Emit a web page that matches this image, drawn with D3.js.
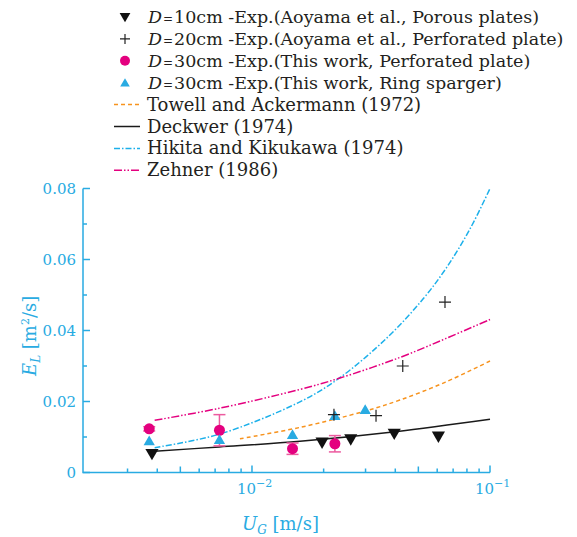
<!DOCTYPE html>
<html>
<head>
<meta charset="utf-8">
<script src="https://cdn.jsdelivr.net/npm/d3@7"></script>
<style>
  body { margin: 0; background: #fff; }
  text { font-family: "DejaVu Serif", serif; }
</style>
</head>
<body>
<div id="chart"></div>
<script>
// ---- data ----
var xDomain = [0.00195, 0.1];
var yDomain = [0, 0.08];
var yTicks = [0, 0.02, 0.04, 0.06, 0.08];
var yMinor = [0.01, 0.03, 0.05, 0.07];
var xMajor = [0.01, 0.1];
var xMajorLabels = ["\u22122", "\u22121"];
var xMid = [0.005, 0.05];
var xMinor = [0.003, 0.004, 0.006, 0.007, 0.008, 0.009, 0.02, 0.03, 0.04, 0.06, 0.07, 0.08, 0.09];

// D=10cm (Aoyama, porous plates)
var d10U = [0.0038, 0.0197, 0.0260, 0.0396, 0.0607];
var d10E = [0.0053, 0.0085, 0.0094, 0.0110, 0.0102];
// D=20cm (Aoyama, perforated plate)
var d20U = [0.0221, 0.0332, 0.0430, 0.0647];
var d20E = [0.0163, 0.0160, 0.0300, 0.0480];
// D=30cm (this work, perforated plate) with error
var d30pU = [0.0037, 0.0073, 0.0148, 0.0223];
var d30pE = [0.0123, 0.0119, 0.0067, 0.0081];
var d30pErr = [0.0006, 0.0044, 0.0016, 0.0023];
// D=30cm (this work, ring sparger)
var d30rU = [0.0037, 0.0073, 0.0148, 0.0223, 0.0299];
var d30rE = [0.0089, 0.0092, 0.0106, 0.0160, 0.0177];

// correlations
var towellU = [0.0089, 0.0159, 0.0299, 0.0418, 0.0647, 0.1];
var towellE = [0.0095, 0.0127, 0.0173, 0.0204, 0.0254, 0.0314];
var deckwerU = [0.0039, 0.0073, 0.0159, 0.0400, 0.1];
var deckwerE = [0.0060, 0.0072, 0.0088, 0.0115, 0.0150];
var hikitaU = [0.0039, 0.0073, 0.0159, 0.0234, 0.0374, 0.0525, 0.0658, 0.0824, 0.1];
var hikitaE = [0.0070, 0.0108, 0.0199, 0.0267, 0.0383, 0.0490, 0.0578, 0.0686, 0.0800];
var zehnerU = [0.0039, 0.0073, 0.0159, 0.0234, 0.0418, 0.0650, 0.1];
var zehnerE = [0.0147, 0.0181, 0.0234, 0.0266, 0.0324, 0.0377, 0.0431];

var legendSizes = ["10", "20", "30", "30"];
var legendNotes = ["(Aoyama et al., Porous plates)", "(Aoyama et al., Perforated plate)",
  "(This work, Perforated plate)", "(This work, Ring sparger)"];
var legendLines = ["Towell and Ackermann (1972)", "Deckwer (1974)",
  "Hikita and Kikukawa (1974)", "Zehner (1986)"];

var blue = "#29abe2", magenta = "#e4007f", orange = "#f7931e", cyanLine = "#1cb0ea";

function zip(a, b) { return a.map(function(d, i) { return [d, b[i]]; }); }

function drawChart() {
  var svg = d3.select("#chart").append("svg").attr("width", 577).attr("height", 537);

  var xScale = d3.scaleLog().domain(xDomain).range([83, 490]);
  var yScale = d3.scaleLinear().domain(yDomain).range([472.5, 188.5]);

  // axes
  var axisG = svg.append("g").attr("stroke", blue).attr("stroke-width", 1.5).attr("fill", "none");
  axisG.append("path").attr("d", "M" + xScale.range()[0] + "," + yScale(0.08) + "V" + yScale(0) + "H" + xScale(0.1));

  axisG.selectAll(".ymaj").data(yTicks).enter().append("line")
    .attr("x1", 83).attr("x2", 90).attr("y1", function(d) { return yScale(d); }).attr("y2", function(d) { return yScale(d); });
  axisG.selectAll(".ymin").data(yMinor).enter().append("line")
    .attr("x1", 83).attr("x2", 87).attr("y1", function(d) { return yScale(d); }).attr("y2", function(d) { return yScale(d); });
  axisG.selectAll(".xmaj").data(xMajor).enter().append("line")
    .attr("x1", function(d) { return xScale(d); }).attr("x2", function(d) { return xScale(d); })
    .attr("y1", yScale(0)).attr("y2", yScale(0) - 7);
  axisG.selectAll(".xmid").data(xMid).enter().append("line")
    .attr("x1", function(d) { return xScale(d); }).attr("x2", function(d) { return xScale(d); })
    .attr("y1", yScale(0)).attr("y2", yScale(0) - 6);
  axisG.selectAll(".xmin").data(xMinor).enter().append("line")
    .attr("x1", function(d) { return xScale(d); }).attr("x2", function(d) { return xScale(d); })
    .attr("y1", yScale(0)).attr("y2", yScale(0) - 4);

  svg.selectAll(".ylab").data(yTicks).enter().append("text")
    .attr("x", 76).attr("y", function(d) { return yScale(d) + 5; })
    .attr("text-anchor", "end").attr("fill", blue).attr("font-size", 15)
    .text(function(d) { return d === 0 ? "0" : d.toFixed(2); });

  var xl = svg.selectAll(".xlab").data(xMajor).enter().append("text")
    .attr("x", function(d) { return xScale(d) - 15; }).attr("y", 494)
    .attr("fill", blue).attr("font-size", 15);
  xl.append("tspan").text("10");
  xl.append("tspan").attr("dy", -7).attr("font-size", 11).text(function(d, i) { return xMajorLabels[i]; });

  // axis titles
  var xt = svg.append("text").attr("x", 242).attr("y", 530).attr("fill", blue).attr("font-size", 18);
  xt.append("tspan").attr("font-style", "italic").text("U");
  xt.append("tspan").attr("font-style", "italic").attr("font-size", 12).attr("dy", 4).text("G");
  xt.append("tspan").attr("dy", -4).text(" [m/s]");

  var yt = svg.append("text").attr("transform", "translate(36,376) rotate(-90)").attr("fill", blue).attr("font-size", 18);
  yt.append("tspan").attr("font-style", "italic").text("E");
  yt.append("tspan").attr("font-style", "italic").attr("font-size", 12).attr("dy", 4).text("L");
  yt.append("tspan").attr("dy", -4).text(" [m");
  yt.append("tspan").attr("dy", -7).attr("font-size", 11).text("2");
  yt.append("tspan").attr("dy", 7).text("/s]");

  // correlation curves
  var line = d3.line().x(function(d) { return xScale(d[0]); }).y(function(d) { return yScale(d[1]); })
    .curve(d3.curveCatmullRom.alpha(0.5));
  var curves = [
    {pts: zip(towellU, towellE), color: orange, dash: "4,3"},
    {pts: zip(deckwerU, deckwerE), color: "#1a1a1a", dash: null},
    {pts: zip(hikitaU, hikitaE), color: cyanLine, dash: "6,2,1.5,2"},
    {pts: zip(zehnerU, zehnerE), color: magenta, dash: "8,2,1.5,2,1.5,2"}
  ];
  svg.selectAll(".curve").data(curves).enter().append("path")
    .attr("d", function(d) { return line(d.pts); })
    .attr("fill", "none").attr("stroke", function(d) { return d.color; })
    .attr("stroke-width", 1.5).attr("stroke-dasharray", function(d) { return d.dash; });

  // error bars
  var errData = d30pU.map(function(u, i) { return {u: u, e: d30pE[i], err: d30pErr[i]}; });
  var eb = svg.selectAll(".err").data(errData).enter().append("g")
    .attr("stroke", "#ec5a9f").attr("stroke-width", 1.5);
  eb.append("line").attr("x1", function(d) { return xScale(d.u); }).attr("x2", function(d) { return xScale(d.u); })
    .attr("y1", function(d) { return yScale(d.e + d.err); }).attr("y2", function(d) { return yScale(d.e - d.err); });
  eb.append("line").attr("x1", function(d) { return xScale(d.u) - 6; }).attr("x2", function(d) { return xScale(d.u) + 6; })
    .attr("y1", function(d) { return yScale(d.e + d.err); }).attr("y2", function(d) { return yScale(d.e + d.err); });
  eb.append("line").attr("x1", function(d) { return xScale(d.u) - 6; }).attr("x2", function(d) { return xScale(d.u) + 6; })
    .attr("y1", function(d) { return yScale(d.e - d.err); }).attr("y2", function(d) { return yScale(d.e - d.err); });

  var triDown = d3.symbol().type(d3.symbolTriangle).size(75);
  var triUp = d3.symbol().type(d3.symbolTriangle).size(55);

  // markers
  svg.selectAll(".d30p").data(zip(d30pU, d30pE)).enter().append("circle")
    .attr("cx", function(d) { return xScale(d[0]); }).attr("cy", function(d) { return yScale(d[1]); })
    .attr("r", 5.5).attr("fill", magenta);
  svg.selectAll(".d30r").data(zip(d30rU, d30rE)).enter().append("path")
    .attr("d", triUp).attr("fill", blue)
    .attr("transform", function(d) { return "translate(" + xScale(d[0]) + "," + (yScale(d[1]) + 1) + ")"; });
  svg.selectAll(".d10").data(zip(d10U, d10E)).enter().append("path")
    .attr("d", triDown).attr("fill", "#111")
    .attr("transform", function(d) { return "translate(" + xScale(d[0]) + "," + (yScale(d[1]) - 1) + ") rotate(180)"; });
  svg.selectAll(".d20").data(zip(d20U, d20E)).enter().append("path")
    .attr("d", "M-6,0H6M0,-6V6")
    .attr("stroke", "#222").attr("stroke-width", 1.2).attr("fill", "none")
    .attr("transform", function(d) { return "translate(" + xScale(d[0]) + "," + yScale(d[1]) + ")"; });

  // legend
  var rowY = function(i) { return 17 + i * 21.9; };
  var lg = svg.append("g");
  lg.append("path").attr("d", d3.symbol().type(d3.symbolTriangle).size(50)()).attr("fill", "#111")
    .attr("transform", "translate(125," + (rowY(0) - 1) + ") rotate(180)");
  lg.append("path").attr("d", "M-5,0H5M0,-5V5").attr("stroke", "#222").attr("stroke-width", 1.2)
    .attr("transform", "translate(125," + rowY(1) + ")");
  lg.append("circle").attr("cx", 125).attr("cy", rowY(2)).attr("r", 5).attr("fill", magenta);
  lg.append("path").attr("d", d3.symbol().type(d3.symbolTriangle).size(40)()).attr("fill", blue)
    .attr("transform", "translate(125," + (rowY(3) + 1) + ")");

  legendSizes.forEach(function(s, i) {
    var tx = lg.append("text").attr("x", 148).attr("y", rowY(i) + 6).attr("font-size", 17.5).attr("fill", "#231f20");
    tx.append("tspan").attr("font-style", "italic").text("D");
    tx.append("tspan").attr("font-size", 12).attr("dx", 1).text("=");
    tx.append("tspan").attr("dx", 1).text(s + "cm -Exp." + legendNotes[i]);
  });
  legendLines.forEach(function(t, i) {
    var c = curves[i];
    lg.append("line").attr("x1", 114).attr("x2", 140).attr("y1", rowY(i + 4)).attr("y2", rowY(i + 4))
      .attr("stroke", c.color).attr("stroke-width", 1.5).attr("stroke-dasharray", c.dash);
    lg.append("text").attr("x", 147).attr("y", rowY(i + 4) + 6).attr("font-size", 18).attr("fill", "#231f20").text(t);
  });
}

drawChart();
</script>
</body>
</html>
